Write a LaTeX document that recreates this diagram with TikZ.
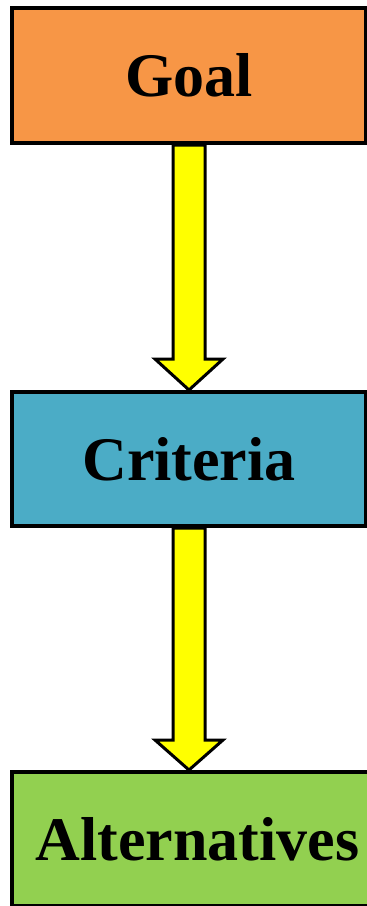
\documentclass[tikz,border=0pt]{standalone}
\usepackage{fontspec}
\setmainfont{Liberation Serif}
\usetikzlibrary{calc}
\definecolor{goalc}{HTML}{F79646}
\definecolor{critc}{HTML}{4BACC6}
\definecolor{altc}{HTML}{92D050}
\definecolor{arrc}{HTML}{FFFF00}
\tikzset{
  box/.style={draw=black, line width=4pt, rectangle, minimum width=354pt, minimum height=135pt,
    inner sep=0pt, font=\fontsize{62}{62}\selectfont\bfseries, text=black},
  blockarrow/.style={draw=black, fill=arrc, line width=3pt, line join=miter},
}
\begin{document}
\begin{tikzpicture}[x=1pt,y=1pt]
\useasboundingbox (0,0) rectangle (367,-906);
\clip (0,0) rectangle (367,-906);
\fill[white] (0,0) rectangle (367,-906);
\node[box, fill=goalc] (goal) at (189,-75.5) {Goal};
\node[box, fill=critc, minimum height=134pt] (crit) at (189,-459) {Criteria};
\node[box, fill=altc, minimum width=366pt, minimum height=134pt] (alt) at (195,-839) {\hspace{5pt}Alternatives};
\coordinate (t1) at (crit.north);
\coordinate (t2) at (crit.south |- alt.north);
% arrow goal -> criteria
\draw[blockarrow]
  ($(goal.south)+(-16,0)$) -- ($(t1)+(-16,31)$) -- ($(t1)+(-34,31)$)
  -- (t1) -- ($(t1)+(34,31)$) -- ($(t1)+(16,31)$)
  -- ($(goal.south)+(16,0)$) -- cycle;
% arrow criteria -> alternatives
\draw[blockarrow]
  ($(crit.south)+(-16,0)$) -- ($(t2)+(-16,30)$) -- ($(t2)+(-34,30)$)
  -- (t2) -- ($(t2)+(34,30)$) -- ($(t2)+(16,30)$)
  -- ($(crit.south)+(16,0)$) -- cycle;
\end{tikzpicture}
\end{document}
